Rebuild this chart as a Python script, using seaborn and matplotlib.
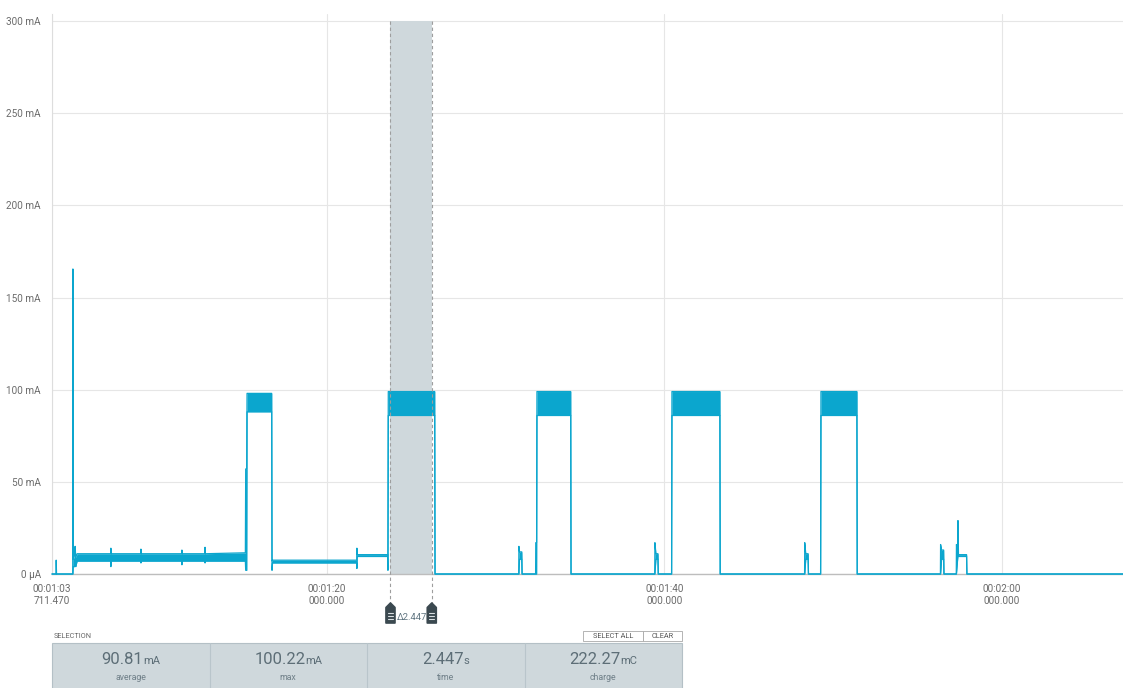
import matplotlib
matplotlib.use("Agg")
import matplotlib.pyplot as plt
from matplotlib.patches import Rectangle, Polygon
import pandas as pd
import seaborn as sns

# Current trace as a min/max envelope: time (s), lower and upper bound (mA)
trace_t = [63.71, 63.95, 63.96, 63.98, 64.94, 64.95, 64.97, 65.05, 65.08, 65.12,
           65.20, 67.19, 67.20, 67.22, 68.97, 68.98, 69.00, 71.40, 71.41, 71.43,
           72.77, 72.78, 72.80, 75.17, 75.19, 75.25, 75.27, 76.73, 76.75, 76.78,
           81.77, 81.78, 81.80, 83.60, 83.62, 83.64, 86.39, 86.41, 91.37, 91.38,
           91.42, 91.55, 91.57, 92.37, 92.38, 92.43, 92.45, 94.45, 94.47, 99.43,
           99.44, 99.50, 99.62, 99.64, 100.43, 100.45, 103.29, 103.31, 108.31, 108.32,
           108.38, 108.52, 108.54, 109.26, 109.28, 111.41, 111.43, 116.36, 116.37, 116.43,
           116.55, 116.57, 117.30, 117.31, 117.38, 117.40, 117.43, 117.91, 117.93, 127.18]
trace_lo = [0, 0, 0, 0, 0, 0, 4, 4, 5, 4,
            7, 7, 4, 7, 7, 6, 7, 7, 5, 7,
            7, 6, 7, 7, 2, 2, 88, 88, 2, 6,
            6, 3, 9.5, 9.5, 2, 86, 86, 0, 0, 0,
            8, 8, 0, 0, 0, 0, 86, 86, 0, 0,
            0, 8, 8, 0, 0, 86, 86, 0, 0, 0,
            8, 8, 0, 0, 86, 86, 0, 0, 0, 8,
            8, 0, 0, 0, 8, 10, 9.5, 9.5, 0, 0]
trace_hi = [0, 0, 7.5, 0, 0, 165.5, 8, 10, 15, 9,
            11, 11, 14, 11, 11, 13.5, 11, 11, 13, 11,
            11, 14.5, 11, 11.5, 57, 57, 98, 98, 7, 7.5,
            7.5, 14, 10.5, 10.5, 10, 99, 99, 0, 0, 15,
            12, 12, 0, 0, 17, 17, 99, 99, 0, 0,
            17, 11, 11, 0, 0, 99, 99, 0, 0, 17,
            11, 11, 0, 0, 99, 99, 0, 0, 16, 13,
            13, 0, 0, 16, 12, 29, 10.5, 10.5, 0, 0]

y_ticks = [0, 50, 100, 150, 200, 250, 300]
y_labels = ["0 µA", "50 mA", "100 mA", "150 mA", "200 mA", "250 mA", "300 mA"]
x_ticks = [63.71147, 80, 100, 120]
x_labels = ["00:01:03\n711.470", "00:01:20\n000.000",
            "00:01:40\n000.000", "00:02:00\n000.000"]

sel_start = 83.77
sel_duration = 2.447
stat_values = ["90.81", "100.22", "2.447", "222.27"]
stat_units = ["mA", "mA", "s", "mC"]
stat_names = ["average", "max", "time", "charge"]

TRACE = "#0BA6CE"
TEXT = "#6b6b6b"

sns.set_theme(style="white")
plt.rcParams["font.family"] = ["Roboto", "DejaVu Sans"]

W, H = 1123, 688
fig = plt.figure(figsize=(W / 100, H / 100), dpi=100)
ax = fig.add_axes([52 / W, 1 - 574 / H, (W - 52) / W, (574 - 13.7) / H])

df = pd.DataFrame({"t": trace_t, "lo": trace_lo, "hi": trace_hi})

# selection band
ax.add_patch(Rectangle((sel_start, 0), sel_duration, 300, fc="#CFD8DC",
                       ec="none", zorder=1))

ax.fill_between(df["t"], df["lo"], df["hi"], color=TRACE, lw=0, zorder=3)
sns.lineplot(data=df, x="t", y="hi", ax=ax, estimator=None, sort=False,
             color=TRACE, lw=0.9, zorder=4)
sns.lineplot(data=df, x="t", y="lo", ax=ax, estimator=None, sort=False,
             color=TRACE, lw=0.9, zorder=4)
for ln in ax.lines:
    ln.set_clip_on(False)

ax.set_xlim(63.71147, 127.18)
ax.set_ylim(0, 304)
ax.set_yticks(y_ticks, y_labels)
ax.set_xticks(x_ticks, x_labels)
ax.set_xlabel("")
ax.set_ylabel("")
ax.grid(True, color="#E6E6E6", lw=0.8, zorder=0)
ax.set_axisbelow(True)
ax.tick_params(axis="y", length=6, width=0.8, color="#DDDDDD",
               labelsize=7.2, labelcolor=TEXT, pad=2)
ax.tick_params(axis="x", length=0, labelsize=7.2, labelcolor=TEXT, pad=7)
for lab in ax.get_xticklabels():
    lab.set_linespacing(1.3)
for s in ["top", "right"]:
    ax.spines[s].set_visible(False)
ax.spines["left"].set_color("#DDDDDD")
ax.spines["left"].set_linewidth(0.8)
ax.spines["bottom"].set_color("#BDBDBD")
ax.spines["bottom"].set_linewidth(1.0)

# overlay in pixel units for the selection handles and the stats panel
ov = fig.add_axes([0, 0, 1, 1])
ov.set_xlim(0, W)
ov.set_ylim(H, 0)
ov.axis("off")
ov.patch.set_visible(False)

fig.canvas.draw()
r = fig.canvas.get_renderer()

def px(t):
    return ax.transData.transform((t, 0))[0]

y300 = H - ax.transData.transform((0, 300))[1]
sx = [px(sel_start), px(sel_start + sel_duration)]
for x in sx:
    ov.plot([x, x], [y300, 605], color="#9E9E9E", lw=0.8, ls=(0, (3, 2.5)),
            zorder=2)
    pin = [(x, 603), (x + 4.5, 607.5), (x + 4.5, 623), (x - 4.5, 623),
           (x - 4.5, 607.5)]
    ov.add_patch(Polygon(pin, closed=True, fc="#3B4950", ec="#3B4950",
                         lw=1.2, joinstyle="round", zorder=5))
    for yy in (613, 616, 619):
        ov.plot([x - 2.5, x + 2.5], [yy, yy], color="#D8DEE1", lw=0.8,
                zorder=6)
ov.text((sx[0] + sx[1]) / 2 + 1, 617.5, f"Δ{sel_duration:.3f}", ha="center",
        va="center", fontsize=6.8, color="#5F7480")

# statistics panel
ov.text(54, 636.5, "SELECTION", ha="left", va="center", fontsize=5.3,
        color="#666666")
for (x0, w, lab) in [(583, 60, "SELECT ALL"), (643, 39, "CLEAR")]:
    ov.add_patch(Rectangle((x0, 631), w, 10, fc="white", ec="#A8A8A8", lw=0.6))
    ov.text(x0 + w / 2, 636.3, lab, ha="center", va="center", fontsize=5.3,
            color="#555555")

ov.add_patch(Rectangle((52, 643), 630, 50, fc="#CFD8DC", ec="#B4C0C6", lw=0.8))
edges = [52, 209.5, 367, 524.5, 682]
for xd in edges[1:-1]:
    ov.plot([xd, xd], [643, 688], color="#B9C5CB", lw=0.8)
for i in range(4):
    cx = (edges[i] + edges[i + 1]) / 2
    t1 = ov.text(0, 663.5, stat_values[i], fontsize=12, color="#5D6E77",
                 va="baseline", ha="left")
    t2 = ov.text(0, 663.5, stat_units[i], fontsize=8, color="#5D6E77",
                 va="baseline", ha="left")
    w1 = t1.get_window_extent(r).width
    w2 = t2.get_window_extent(r).width
    left = cx - (w1 + w2) / 2
    t1.set_x(left)
    t2.set_x(left + w1)
    ov.text(cx, 678, stat_names[i], ha="center", va="center", fontsize=6.3,
            color="#6F7F88")

fig.savefig("out.png", dpi=100)
